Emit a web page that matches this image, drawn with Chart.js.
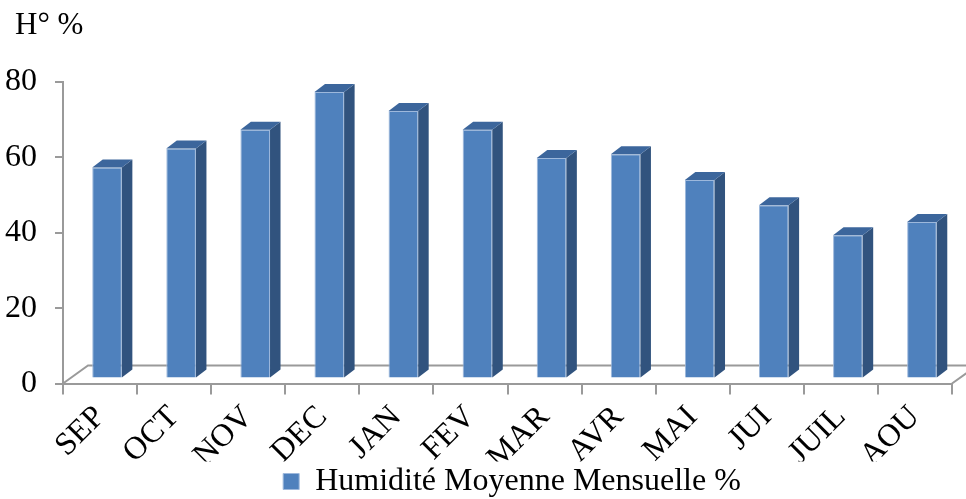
<!DOCTYPE html>
<html>
<head>
<meta charset="utf-8">
<script src="https://cdn.jsdelivr.net/npm/chart.js@4.4.1/dist/chart.umd.min.js"></script>
<style>
  body { margin: 0; background: #ffffff; }
</style>
</head>
<body>
<canvas id="humidity" width="966" height="499"></canvas>
<script>
// Monthly mean humidity
const months = ["SEP", "OCT", "NOV", "DEC", "JAN", "FEV", "MAR", "AVR", "MAI", "JUI", "JUIL", "AOU"];
const humidity = [56, 61, 66, 76, 71, 66, 58.5, 59.5, 52.7, 46, 38, 41.5];
const seriesName = "Humidité Moyenne Mensuelle %";
const axisTitle = "H° %";

const serif = "'Liberation Serif', 'Times New Roman', serif";
const lineGrey = "#9a9a9a";

// Fake 3D: floor depth, bar depth and where the bar front sits inside the floor
const floorDepth = { x: 25, y: -18 };
const barDepth = { x: 10.5, y: -8 };
const barShift = { x: 7, y: -5 };

const faceColors = {
  front: "#4f81bd",
  side: "#31537e",
  top: "#3c669c",
};

const poly = (ctx, pts, fill) => {
  ctx.beginPath();
  ctx.moveTo(pts[0][0], pts[0][1]);
  for (let i = 1; i < pts.length; i++) ctx.lineTo(pts[i][0], pts[i][1]);
  ctx.closePath();
  ctx.fillStyle = fill;
  ctx.fill();
};

const threeD = {
  id: "threeD",
  afterLayout(chart) {
    // push the legend a little to the right
    const lg = chart.legend;
    lg.left += 36;
    lg.right += 36;
  },
  beforeDatasetsDraw(chart) {
    const { ctx, chartArea: a } = chart;
    ctx.save();
    ctx.strokeStyle = lineGrey;
    ctx.lineWidth = 2;
    ctx.beginPath();
    // back edge of the floor and both side edges
    ctx.moveTo(a.left, a.bottom);
    ctx.lineTo(a.left + floorDepth.x, a.bottom + floorDepth.y);
    ctx.lineTo(a.right + floorDepth.x, a.bottom + floorDepth.y);
    ctx.lineTo(a.right, a.bottom);
    ctx.stroke();
    ctx.restore();

    ctx.save();
    ctx.translate(barShift.x, barShift.y);
  },
  afterDatasetsDraw(chart) {
    const { ctx } = chart;
    ctx.restore();
    ctx.save();
    ctx.translate(barShift.x, barShift.y);
    chart.getDatasetMeta(0).data.forEach((bar) => {
      const { x, y, base, width } = bar.getProps(["x", "y", "base", "width"], true);
      const l = x - width / 2;
      const r = x + width / 2;
      poly(ctx, [[r, y], [r + barDepth.x, y + barDepth.y], [r + barDepth.x, base + barDepth.y], [r, base]], faceColors.side);
      poly(ctx, [[l, y], [l + barDepth.x, y + barDepth.y], [r + barDepth.x, y + barDepth.y], [r, y]], faceColors.top);
    });
    ctx.restore();

    // value axis caption
    ctx.save();
    ctx.fillStyle = "#000";
    ctx.font = "31px " + serif;
    ctx.textBaseline = "alphabetic";
    ctx.fillText(axisTitle, 15, 34);
    ctx.restore();
  },
};

new Chart(document.getElementById("humidity"), {
  type: "bar",
  plugins: [threeD],
  data: {
    labels: months,
    datasets: [
      {
        label: seriesName,
        data: humidity,
        backgroundColor: faceColors.front,
        borderColor: "#9db8dc",
        borderWidth: 1,
        barPercentage: 0.4,
        categoryPercentage: 1,
      },
    ],
  },
  options: {
    responsive: false,
    animation: false,
    devicePixelRatio: 1,
    layout: { padding: { top: 82, right: 14, left: 0, bottom: 0 } },
    plugins: {
      tooltip: { enabled: false },
      legend: {
        position: "bottom",
        maxHeight: 37.5,
        labels: {
          color: "#000",
          font: { family: serif, size: 32 },
          boxWidth: 16,
          boxHeight: 16,
          padding: 4,
        },
      },
    },
    scales: {
      x: {
        grid: { drawOnChartArea: false, drawTicks: true, tickLength: 11, color: lineGrey, lineWidth: 2 },
        border: { color: lineGrey, width: 2 },
        ticks: {
          color: "#000",
          font: { family: serif, size: 32 },
          minRotation: 45,
          maxRotation: 45,
          padding: 4,
        },
        afterFit(scale) {
          scale.height = 78;
        },
      },
      y: {
        min: 0,
        max: 80,
        grid: { drawOnChartArea: false, drawTicks: true, tickLength: 8, color: lineGrey, lineWidth: 2 },
        border: { color: lineGrey, width: 2 },
        ticks: {
          stepSize: 20,
          color: "#000",
          font: { family: serif, size: 32 },
          padding: 18,
        },
        afterFit(scale) {
          scale.width = 63;
        },
      },
    },
  },
});
</script>
</body>
</html>
